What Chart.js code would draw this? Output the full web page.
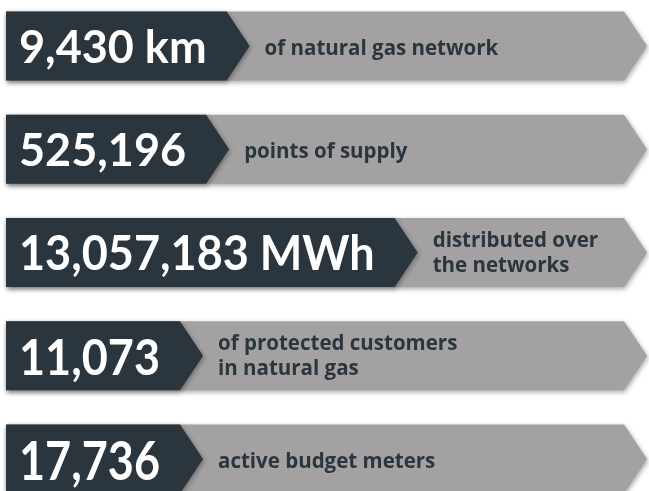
<!DOCTYPE html>
<html>
<head>
<meta charset="utf-8">
<script src="https://cdn.jsdelivr.net/npm/chart.js@4.4.1/dist/chart.umd.min.js"></script>
<style>
    html, body { margin: 0; padding: 0; background: #fff; overflow: hidden; }
    #wrap { width: 649px; height: 491px; }
</style>
</head>
<body>
<div id="wrap"><canvas id="chart"></canvas></div>
<script>
// Key figures and what they mean
const values = ['9,430 km', '525,196', '13,057,183 MWh', '11,073', '17,736'];
const descriptions = [
    ['of natural gas network'],
    ['points of supply'],
    ['distributed over', 'the networks'],
    ['of protected customers', 'in natural gas'],
    ['active budget meters']
];

// styling
const DARK = '#2b353d';
const GRAY = '#a3a1a2';
const TIP = 23;
const VALUE_FONT = 'bold 45px Lato';
const LABEL_FONT = 'bold 20.5px "Open Sans"';
const valueStretch = [1, 1, 1.04, 1.1, 1.2];

// dark panel length follows the width of its number
const measure = document.createElement('canvas').getContext('2d');
measure.font = VALUE_FONT;
const panelEnds = values.map(v => 13 + measure.measureText(v).width + 20 + TIP);
const bandSpan = values.map(() => [0, 641]);

function arrow(ctx, x0, x1, y, h) {
    ctx.beginPath();
    ctx.moveTo(x0, y - h / 2);
    ctx.lineTo(x1 - TIP, y - h / 2);
    ctx.lineTo(x1, y);
    ctx.lineTo(x1 - TIP, y + h / 2);
    ctx.lineTo(x0, y + h / 2);
    ctx.closePath();
}

const chevrons = {
    id: 'chevrons',
    afterDatasetsDraw(chart) {
        const ctx = chart.ctx;
        const bands = chart.getDatasetMeta(0).data;
        const panels = chart.getDatasetMeta(1).data;
        ctx.save();
        bands.forEach((bar, i) => {
            const p = panels[i];
            const left = Math.min(bar.x, bar.base);
            const right = Math.max(bar.x, bar.base);
            const pRight = Math.max(p.x, p.base);

            ctx.shadowColor = 'rgba(0,0,0,0.35)';
            ctx.shadowBlur = 5;
            ctx.shadowOffsetX = 1;
            ctx.shadowOffsetY = 2;
            ctx.fillStyle = GRAY;
            arrow(ctx, left, right, bar.y, bar.height);
            ctx.fill();
            ctx.fillStyle = DARK;
            arrow(ctx, left, pRight, p.y, p.height);
            ctx.fill();
            ctx.shadowColor = 'transparent';

            // number
            ctx.save();
            ctx.fillStyle = '#ffffff';
            ctx.font = VALUE_FONT;
            ctx.textBaseline = 'alphabetic';
            ctx.translate(left + 13, bar.y + 17 * valueStretch[i] + (valueStretch[i] - 1) * 4);
            ctx.scale(1, valueStretch[i]);
            ctx.fillText(values[i], 0, 0);
            ctx.restore();

            // description
            ctx.fillStyle = DARK;
            ctx.font = LABEL_FONT;
            const lines = descriptions[i];
            const tx = pRight + 15;
            if (lines.length === 1) {
                ctx.fillText(lines[0], tx, bar.y + 9);
            } else {
                ctx.fillText(lines[0], tx, bar.y - 6);
                ctx.fillText(lines[1], tx, bar.y + 19);
            }
        });
        ctx.restore();
    }
};

new Chart(document.getElementById('chart'), {
    type: 'bar',
    data: {
        labels: values,
        datasets: [
            { data: bandSpan, backgroundColor: 'transparent', grouped: false, barThickness: 69 },
            { data: panelEnds.map(e => [0, e]), backgroundColor: 'transparent', grouped: false, barThickness: 69 }
        ]
    },
    options: {
        indexAxis: 'y',
        responsive: true,
        maintainAspectRatio: false,
        animation: false,
        clip: false,
        layout: { padding: { left: 6, right: 2, top: 46, bottom: 32 } },
        scales: {
            x: { min: 0, max: 641, display: false },
            y: { display: false, offset: false }
        },
        plugins: { legend: { display: false }, tooltip: { enabled: false } }
    },
    plugins: [chevrons]
});
</script>
</body>
</html>
